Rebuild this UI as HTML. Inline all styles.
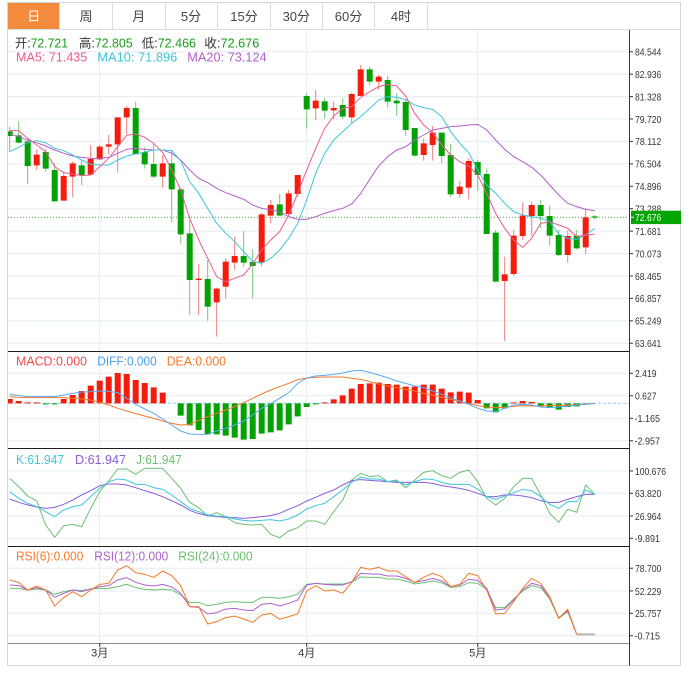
<!DOCTYPE html>
<html><head><meta charset="utf-8"><style>
html,body{margin:0;padding:0;background:#fff;}
svg{display:block;font-family:"Liberation Sans","Noto Sans CJK SC",sans-serif;}
.ns{vector-effect:non-scaling-stroke;fill:none;}
.ax{font-size:10.5px;fill:#333;}
</style></head><body>
<svg width="688" height="673" viewBox="0 0 688 673">
<defs><clipPath id="pc"><rect x="8" y="30" width="621" height="614"/></clipPath></defs>
<rect x="0" y="0" width="688" height="673" fill="#fff"/>
<!-- tabs -->
<rect x="8" y="3" width="51.3" height="26.3" fill="#f38b3e"/>
<g stroke="#dcdcdc" stroke-width="1">
<line x1="59.5" y1="3" x2="59.5" y2="29"/><line x1="112.5" y1="3" x2="112.5" y2="29"/>
<line x1="165.5" y1="3" x2="165.5" y2="29"/><line x1="217.5" y1="3" x2="217.5" y2="29"/>
<line x1="270.5" y1="3" x2="270.5" y2="29"/><line x1="322.5" y1="3" x2="322.5" y2="29"/>
<line x1="374.5" y1="3" x2="374.5" y2="29"/><line x1="427.5" y1="3" x2="427.5" y2="29"/>
<line x1="8" y1="29.5" x2="681" y2="29.5"/>
</g>
<rect x="7.5" y="2.5" width="673" height="663" fill="none" stroke="#d6d6d6"/>
<g font-size="13" text-anchor="middle" fill="#444">
<text x="33.7" y="20.8" fill="#fff">日</text>
<text x="86" y="20.8">周</text>
<text x="138.7" y="20.8">月</text>
<text x="191" y="20.8">5分</text>
<text x="244" y="20.8">15分</text>
<text x="296.3" y="20.8">30分</text>
<text x="348.5" y="20.8">60分</text>
<text x="401" y="20.8">4时</text>
</g>
<!-- grids -->
<g stroke="#e5ecf1" stroke-width="1">
<line x1="8" x2="629" y1="51.7" y2="51.7"/><line x1="8" x2="629" y1="74.1" y2="74.1"/>
<line x1="8" x2="629" y1="96.6" y2="96.6"/><line x1="8" x2="629" y1="119" y2="119"/>
<line x1="8" x2="629" y1="141.4" y2="141.4"/><line x1="8" x2="629" y1="163.9" y2="163.9"/>
<line x1="8" x2="629" y1="186.3" y2="186.3"/><line x1="8" x2="629" y1="208.7" y2="208.7"/>
<line x1="8" x2="629" y1="231.1" y2="231.1"/><line x1="8" x2="629" y1="253.6" y2="253.6"/>
<line x1="8" x2="629" y1="276" y2="276"/><line x1="8" x2="629" y1="298.4" y2="298.4"/>
<line x1="8" x2="629" y1="320.9" y2="320.9"/><line x1="8" x2="629" y1="343.3" y2="343.3"/>
<line x1="8" x2="629" y1="373.3" y2="373.3"/><line x1="8" x2="629" y1="395.7" y2="395.7"/>
<line x1="8" x2="629" y1="418.3" y2="418.3"/><line x1="8" x2="629" y1="440.7" y2="440.7"/>
<line x1="8" x2="629" y1="471" y2="471"/><line x1="8" x2="629" y1="493.3" y2="493.3"/>
<line x1="8" x2="629" y1="516" y2="516"/><line x1="8" x2="629" y1="538.3" y2="538.3"/>
<line x1="8" x2="629" y1="568.3" y2="568.3"/><line x1="8" x2="629" y1="591" y2="591"/>
<line x1="8" x2="629" y1="613.3" y2="613.3"/><line x1="8" x2="629" y1="635.7" y2="635.7"/>
<line x1="99.7" x2="99.7" y1="30" y2="643"/><line x1="306.7" x2="306.7" y1="30" y2="643"/><line x1="477.7" x2="477.7" y1="30" y2="643"/>
</g>
<g clip-path="url(#pc)">
<!-- current price line -->
<line x1="8" x2="629" y1="217.3" y2="217.3" stroke="#4aa84a" stroke-width="1" stroke-dasharray="1,2"/>
<!-- MACD zero line -->
<line x1="8" x2="629" y1="403.3" y2="403.3" stroke="#8ecbea" stroke-width="1" stroke-dasharray="3,2"/>
<!-- main chart -->
<g transform="translate(0,60) scale(1,0.3333333)">
<path class="ns" stroke="#f37d7c" stroke-width="1" d="M36.7 268V330M63.7 335V422M72.7 305V412M90.7 255V345M99.7 255V300M108.7 225V283M117.7 172V338M126.7 138V222M162.7 285V383M198.7 612V765M216.7 683V830M225.7 595V715M234.7 530V630M261.7 458V620M270.7 420V490M288.7 390V465M297.7 345V410M315.7 90V180M333.7 124V178M351.7 98V190M360.7 15V108M378.7 45V90M423.7 235V302M432.7 198V302M459.7 362V413M468.7 295V418M504.7 590V843M513.7 510V648M522.7 428V540M531.7 425V528M567.7 512V608M585.7 445V582"/>
<path class="ns" stroke="#76c776" stroke-width="1" d="M9.7 200V275M18.7 183V250M27.7 240V372M45.7 265V335M54.7 310V424M81.7 298V375M135.7 125V283M144.7 262V326M153.7 250V355M171.7 270V487M180.7 383V550M189.7 478V765M207.7 600V782M243.7 513V620M252.7 568V716M279.7 402V467M306.7 100V206M324.7 112V176M342.7 115V178M369.7 20V75M387.7 48V143M396.7 100V168M405.7 118V228M414.7 204V290M441.7 218V310M450.7 252V413M477.7 300V393M486.7 325V522M495.7 510V668M540.7 420V505M549.7 438V557M558.7 510V588M576.7 510V568M594.7 465V478"/>
<path fill="#f41c0c" d="M33.7 284h6V316h-6ZM60.7 348h6V422h-6ZM69.7 310h6V350h-6ZM87.7 297h6V344h-6ZM96.7 260h6V298h-6ZM105.7 253h6V260h-6ZM114.7 172h6V253h-6ZM123.7 144h6V172h-6ZM159.7 310h6V350h-6ZM195.7 656h6V660h-6ZM213.7 686h6V727h-6ZM222.7 605h6V680h-6ZM231.7 588h6V608h-6ZM258.7 463h6V607h-6ZM267.7 435h6V467h-6ZM285.7 400h6V462h-6ZM294.7 345h6V402h-6ZM312.7 122h6V145h-6ZM330.7 144h6V151h-6ZM348.7 102h6V172h-6ZM357.7 28h6V108h-6ZM375.7 50h6V65h-6ZM420.7 250h6V285h-6ZM429.7 218h6V255h-6ZM456.7 380h6V402h-6ZM465.7 303h6V383h-6ZM501.7 643h6V663h-6ZM510.7 527h6V642h-6ZM519.7 467h6V528h-6ZM528.7 435h6V468h-6ZM564.7 528h6V585h-6ZM582.7 472h6V562h-6Z"/>
<path fill="#04a104" d="M6.7 214h6V228h-6ZM15.7 226h6V248h-6ZM24.7 244h6V318h-6ZM42.7 276h6V326h-6ZM51.7 330h6V424h-6ZM78.7 316h6V345h-6ZM132.7 144h6V283h-6ZM141.7 276h6V313h-6ZM150.7 312h6V350h-6ZM168.7 310h6V388h-6ZM177.7 388h6V523h-6ZM186.7 520h6V660h-6ZM204.7 657h6V740h-6ZM240.7 588h6V608h-6ZM249.7 606h6V618h-6ZM276.7 433h6V467h-6ZM303.7 108h6V148h-6ZM321.7 124h6V152h-6ZM339.7 135h6V170h-6ZM366.7 28h6V65h-6ZM384.7 60h6V125h-6ZM393.7 122h6V130h-6ZM402.7 126h6V210h-6ZM411.7 204h6V287h-6ZM438.7 218h6V288h-6ZM447.7 285h6V403h-6ZM474.7 306h6V345h-6ZM483.7 342h6V522h-6ZM492.7 518h6V665h-6ZM537.7 435h6V468h-6ZM546.7 468h6V527h-6ZM555.7 525h6V585h-6ZM573.7 527h6V565h-6ZM591.7 469h6V473h-6Z"/>
<polyline class="ns" stroke="#b35fc9" stroke-width="1" points="9.7,222 18.7,230 27.7,240 36.7,248 45.7,258 54.7,270 63.7,280 72.7,288 81.7,292 90.7,295 99.7,295 108.7,292 117.7,280 126.7,268 135.7,265 144.7,268 153.7,270 162.7,270 171.7,280 180.7,300 189.7,330 198.7,355 207.7,368 216.7,385 225.7,398 234.7,408 243.7,418 252.7,435 261.7,445 270.7,450 279.7,455 288.7,470 297.7,478 306.7,478 315.7,470 324.7,460 333.7,452 342.7,445 351.7,432 360.7,400 369.7,358 378.7,318 387.7,290 396.7,270 405.7,260 414.7,240 423.7,225 432.7,210 441.7,205 450.7,200 459.7,198 468.7,195 477.7,193 486.7,210 495.7,240 504.7,268 513.7,290 522.7,305 531.7,322 540.7,345 549.7,375 558.7,405 567.7,430 576.7,440 585.7,448 594.7,452"/>
<polyline class="ns" stroke="#3cc6dc" stroke-width="1" points="9.7,275 18.7,262 27.7,248 36.7,242 45.7,248 54.7,265 63.7,272 72.7,285 81.7,300 90.7,313 99.7,315 108.7,315 117.7,300 126.7,288 135.7,282 144.7,276 153.7,270 162.7,270 171.7,272 180.7,302 189.7,365 198.7,400 207.7,445 216.7,490 225.7,520 234.7,545 243.7,575 252.7,605 261.7,610 270.7,595 279.7,570 288.7,535 297.7,490 306.7,420 315.7,340 324.7,280 333.7,240 342.7,215 351.7,190 360.7,170 369.7,145 378.7,120 387.7,110 396.7,112 405.7,119 414.7,135 423.7,143 432.7,148 441.7,170 450.7,215 459.7,250 468.7,278 477.7,330 486.7,375 495.7,400 504.7,430 513.7,455 522.7,465 531.7,470 540.7,475 549.7,485 558.7,522 567.7,535 576.7,538 585.7,525 594.7,505"/>
<polyline class="ns" stroke="#ee5a8e" stroke-width="1" points="9.7,212 18.7,212 27.7,235 36.7,255 45.7,275 54.7,320 63.7,338 72.7,342 81.7,347 90.7,345 99.7,320 108.7,295 117.7,260 126.7,226 135.7,222 144.7,232 153.7,250 162.7,278 171.7,330 180.7,390 189.7,475 198.7,540 207.7,595 216.7,650 225.7,665 234.7,655 243.7,645 252.7,612 261.7,570 270.7,540 279.7,515 288.7,465 297.7,400 306.7,330 315.7,265 324.7,205 333.7,168 342.7,145 351.7,140 360.7,112 369.7,95 378.7,80 387.7,73 396.7,78 405.7,108 414.7,160 423.7,195 432.7,218 441.7,255 450.7,285 459.7,305 468.7,318 477.7,345 486.7,400 495.7,460 504.7,505 513.7,540 522.7,562 531.7,535 540.7,490 549.7,485 558.7,495 567.7,505 576.7,530 585.7,525 594.7,522"/>
</g>
<!-- MACD -->
<g transform="translate(0,345) scale(1,0.3333333)">
<path fill="#f41c0c" d="M6.7 162h6V175h-6ZM15.7 168h6V175h-6ZM24.7 172h6V175h-6ZM33.7 172h6V175h-6ZM60.7 162h6V175h-6ZM69.7 150h6V175h-6ZM78.7 138h6V175h-6ZM87.7 122h6V175h-6ZM96.7 107h6V175h-6ZM105.7 95h6V175h-6ZM114.7 84h6V175h-6ZM123.7 87h6V175h-6ZM132.7 105h6V175h-6ZM141.7 114h6V175h-6ZM150.7 127h6V175h-6ZM159.7 143h6V175h-6ZM321.7 172h6V175h-6ZM330.7 163h6V175h-6ZM339.7 151h6V175h-6ZM348.7 131h6V175h-6ZM357.7 117h6V175h-6ZM366.7 115h6V175h-6ZM375.7 113h6V175h-6ZM384.7 117h6V175h-6ZM393.7 119h6V175h-6ZM402.7 125h6V175h-6ZM411.7 125h6V175h-6ZM420.7 119h6V175h-6ZM429.7 119h6V175h-6ZM438.7 131h6V175h-6ZM447.7 142h6V175h-6ZM456.7 140h6V175h-6ZM465.7 143h6V175h-6ZM474.7 165h6V175h-6ZM510.7 172h6V175h-6ZM519.7 168h6V175h-6ZM528.7 171h6V175h-6Z"/>
<path fill="#04a104" d="M42.7 175h6V178h-6ZM51.7 175h6V178h-6ZM177.7 175h6V212h-6ZM186.7 175h6V241h-6ZM195.7 175h6V255h-6ZM204.7 175h6V268h-6ZM213.7 175h6V268h-6ZM222.7 175h6V272h-6ZM231.7 175h6V278h-6ZM240.7 175h6V284h-6ZM249.7 175h6V282h-6ZM258.7 175h6V266h-6ZM267.7 175h6V262h-6ZM276.7 175h6V256h-6ZM285.7 175h6V238h-6ZM294.7 175h6V214h-6ZM303.7 175h6V186h-6ZM312.7 175h6V178h-6ZM483.7 175h6V190h-6ZM492.7 175h6V202h-6ZM501.7 175h6V190h-6ZM537.7 175h6V182h-6ZM546.7 175h6V188h-6ZM555.7 175h6V194h-6ZM564.7 175h6V186h-6ZM573.7 175h6V184h-6ZM582.7 175h6V178h-6Z"/>
<polyline class="ns" stroke="#f57a2a" stroke-width="1" points="9.7,155 18.7,157 27.7,158 36.7,158 45.7,158 54.7,158 63.7,158 72.7,160 81.7,162 90.7,165 99.7,172 108.7,180 117.7,190 126.7,198 135.7,206 144.7,213 153.7,220 162.7,228 171.7,235 180.7,240 189.7,238 198.7,226 207.7,215 216.7,205 225.7,195 234.7,185 243.7,173 252.7,160 261.7,147 270.7,135 279.7,125 288.7,115 297.7,104 306.7,99 315.7,97 324.7,96 333.7,96 342.7,96 351.7,100 360.7,103 369.7,110 378.7,117 387.7,123 396.7,128 405.7,133 414.7,138 423.7,145 432.7,150 441.7,157 450.7,163 459.7,170 468.7,176 477.7,182 486.7,186 495.7,188 504.7,187 513.7,184 522.7,182 531.7,183 540.7,183 549.7,182 558.7,181 567.7,180 576.7,179 585.7,177 594.7,175"/>
<polyline class="ns" stroke="#58aaf0" stroke-width="1" points="9.7,148 18.7,151 27.7,155 36.7,155 45.7,155 54.7,155 63.7,150 72.7,145 81.7,141 90.7,140 99.7,138 108.7,139 117.7,143 126.7,160 135.7,178 144.7,192 153.7,205 162.7,222 171.7,240 180.7,258 189.7,267 198.7,268 207.7,268 216.7,258 225.7,250 234.7,240 243.7,228 252.7,210 261.7,190 270.7,176 279.7,160 288.7,143 297.7,115 306.7,99 315.7,93 324.7,91 333.7,88 342.7,84 351.7,78 360.7,76 369.7,82 378.7,90 387.7,98 396.7,108 405.7,115 414.7,123 423.7,128 432.7,138 441.7,148 450.7,158 459.7,168 468.7,178 477.7,190 486.7,198 495.7,200 504.7,190 513.7,180 522.7,178 531.7,180 540.7,186 549.7,188 558.7,186 567.7,183 576.7,180 585.7,178 594.7,176"/>
</g>
<!-- KDJ -->
<g transform="translate(0,445) scale(1,0.3333333)">
<polyline class="ns" stroke="#6cc071" stroke-width="1" points="9.7,100 18.7,125 27.7,153 36.7,168 45.7,240 54.7,277 63.7,242 72.7,238 81.7,245 90.7,190 99.7,140 108.7,108 117.7,72 126.7,72 135.7,88 144.7,70 153.7,70 162.7,70 171.7,100 180.7,130 189.7,172 198.7,188 207.7,213 216.7,203 225.7,215 234.7,233 243.7,238 252.7,240 261.7,238 270.7,268 279.7,278 288.7,258 297.7,248 306.7,228 315.7,228 324.7,238 333.7,200 342.7,165 351.7,105 360.7,85 369.7,95 378.7,92 387.7,110 396.7,105 405.7,128 414.7,105 423.7,82 432.7,77 441.7,92 450.7,100 459.7,82 468.7,75 477.7,110 486.7,160 495.7,180 504.7,160 513.7,125 522.7,100 531.7,100 540.7,150 549.7,205 558.7,232 567.7,193 576.7,202 585.7,120 594.7,148"/>
<polyline class="ns" stroke="#8b5cd6" stroke-width="1" points="9.7,162 18.7,172 27.7,180 36.7,186 45.7,190 54.7,187 63.7,178 72.7,165 81.7,150 90.7,137 99.7,122 108.7,117 117.7,117 126.7,120 135.7,128 144.7,137 153.7,145 162.7,155 171.7,167 180.7,180 189.7,196 198.7,206 207.7,212 216.7,215 225.7,217 234.7,218 243.7,220 252.7,218 261.7,215 270.7,212 279.7,205 288.7,193 297.7,182 306.7,168 315.7,157 324.7,145 333.7,135 342.7,120 351.7,107 360.7,104 369.7,106 378.7,108 387.7,110 396.7,112 405.7,112 414.7,112 423.7,112 432.7,115 441.7,122 450.7,126 459.7,130 468.7,136 477.7,145 486.7,155 495.7,155 504.7,150 513.7,150 522.7,153 531.7,158 540.7,167 549.7,173 558.7,172 567.7,163 576.7,155 585.7,148 594.7,148"/>
<polyline class="ns" stroke="#3cc6dc" stroke-width="1" points="9.7,140 18.7,160 27.7,175 36.7,185 45.7,200 54.7,215 63.7,195 72.7,185 81.7,180 90.7,155 99.7,130 108.7,110 117.7,102 126.7,105 135.7,118 144.7,118 153.7,128 162.7,133 171.7,150 180.7,170 189.7,190 198.7,200 207.7,210 216.7,213 225.7,215 234.7,222 243.7,226 252.7,228 261.7,226 270.7,224 279.7,228 288.7,222 297.7,210 306.7,192 315.7,182 324.7,175 333.7,155 342.7,135 351.7,112 360.7,97 369.7,102 378.7,102 387.7,110 396.7,108 405.7,120 414.7,110 423.7,102 432.7,103 441.7,112 450.7,118 459.7,118 468.7,118 477.7,132 486.7,155 495.7,163 504.7,153 513.7,143 522.7,133 531.7,137 540.7,155 549.7,178 558.7,190 567.7,170 576.7,170 585.7,135 594.7,148"/>
</g>
<!-- RSI -->
<g transform="translate(0,545) scale(1,0.3333333)">
<polyline class="ns" stroke="#6cc071" stroke-width="1" points="9.7,130 18.7,130 27.7,135 36.7,132 45.7,135 54.7,148 63.7,140 72.7,135 81.7,137 90.7,132 99.7,130 108.7,130 117.7,125 126.7,118 135.7,128 144.7,133 153.7,135 162.7,133 171.7,135 180.7,150 189.7,172 198.7,172 207.7,182 216.7,178 225.7,172 234.7,170 243.7,172 252.7,172 261.7,157 270.7,157 279.7,160 288.7,155 297.7,148 306.7,118 315.7,115 324.7,117 333.7,117 342.7,117 351.7,112 360.7,96 369.7,97 378.7,97 387.7,102 396.7,102 405.7,108 414.7,117 423.7,113 432.7,108 441.7,113 450.7,127 459.7,125 468.7,113 477.7,115 486.7,133 495.7,188 504.7,188 513.7,162 522.7,138 531.7,122 540.7,128 549.7,162 558.7,220 567.7,200 576.7,268"/>
<polyline class="ns" stroke="#b060d0" stroke-width="1" points="9.7,120 18.7,122 27.7,135 36.7,128 45.7,135 54.7,157 63.7,145 72.7,135 81.7,140 90.7,132 99.7,125 108.7,122 117.7,105 126.7,98 135.7,112 144.7,120 153.7,123 162.7,118 171.7,126 180.7,145 189.7,185 198.7,187 207.7,207 216.7,203 225.7,192 234.7,190 243.7,195 252.7,197 261.7,178 270.7,175 279.7,183 288.7,175 297.7,165 306.7,120 315.7,115 324.7,118 333.7,120 342.7,120 351.7,110 360.7,85 369.7,87 378.7,87 387.7,93 396.7,93 405.7,100 414.7,112 423.7,107 432.7,100 441.7,108 450.7,125 459.7,120 468.7,103 477.7,106 486.7,130 495.7,195 504.7,192 513.7,165 522.7,135 531.7,115 540.7,122 549.7,158 558.7,218 567.7,197 576.7,268"/>
<polyline class="ns" stroke="#f57a2a" stroke-width="1" points="9.7,105 18.7,112 27.7,135 36.7,123 45.7,135 54.7,183 63.7,158 72.7,140 81.7,155 90.7,135 99.7,118 108.7,115 117.7,75 126.7,62 135.7,83 144.7,88 153.7,97 162.7,78 171.7,92 180.7,122 189.7,185 198.7,185 207.7,237 216.7,230 225.7,218 234.7,213 243.7,222 252.7,232 261.7,210 270.7,205 279.7,223 288.7,215 297.7,207 306.7,138 315.7,122 324.7,138 333.7,135 342.7,145 351.7,112 360.7,67 369.7,73 378.7,67 387.7,78 396.7,78 405.7,95 414.7,113 423.7,97 432.7,85 441.7,95 450.7,125 459.7,118 468.7,85 477.7,92 486.7,135 495.7,207 504.7,205 513.7,170 522.7,130 531.7,100 540.7,115 549.7,155 558.7,220 567.7,193 576.7,268"/>
<path class="ns" stroke="#b8b8a4" stroke-width="2" d="M576.7 268H594.7"/>
</g>
</g>
<!-- separators & axis -->
<g stroke="#1e1e1e" stroke-width="1">
<line x1="8" x2="629" y1="351.5" y2="351.5"/>
<line x1="8" x2="629" y1="448.5" y2="448.5"/>
<line x1="8" x2="629" y1="546.5" y2="546.5"/>
</g>
<line x1="8" x2="629" y1="643.5" y2="643.5" stroke="#8a8a8a"/>
<line x1="629.5" x2="629.5" y1="30" y2="665.5" stroke="#333"/>
<!-- tick marks -->
<g stroke="#333" stroke-width="1">
<path d="M629 51.7h4M629 74.1h4M629 96.6h4M629 119h4M629 141.4h4M629 163.9h4M629 186.3h4M629 208.7h4M629 231.1h4M629 253.6h4M629 276h4M629 298.4h4M629 320.9h4M629 343.3h4M629 373.3h4M629 395.7h4M629 418.3h4M629 440.7h4M629 471h4M629 493.3h4M629 516h4M629 538.3h4M629 568.3h4M629 591h4M629 613.3h4M629 635.7h4M99.7 643v4M306.7 643v4M477.7 643v4"/>
</g>
<!-- axis labels -->
<g class="ax">
<text x="635" y="55.5" textLength="26.3" lengthAdjust="spacingAndGlyphs">84.544</text>
<text x="635" y="77.9" textLength="26.3" lengthAdjust="spacingAndGlyphs">82.936</text>
<text x="635" y="100.4" textLength="26.3" lengthAdjust="spacingAndGlyphs">81.328</text>
<text x="635" y="122.8" textLength="26.3" lengthAdjust="spacingAndGlyphs">79.720</text>
<text x="635" y="145.2" textLength="26.3" lengthAdjust="spacingAndGlyphs">78.112</text>
<text x="635" y="167.7" textLength="26.3" lengthAdjust="spacingAndGlyphs">76.504</text>
<text x="635" y="190.1" textLength="26.3" lengthAdjust="spacingAndGlyphs">74.896</text>
<text x="635" y="212.5" textLength="26.3" lengthAdjust="spacingAndGlyphs">73.288</text>
<text x="635" y="234.9" textLength="26.3" lengthAdjust="spacingAndGlyphs">71.681</text>
<text x="635" y="257.4" textLength="26.3" lengthAdjust="spacingAndGlyphs">70.073</text>
<text x="635" y="279.8" textLength="26.3" lengthAdjust="spacingAndGlyphs">68.465</text>
<text x="635" y="302.2" textLength="26.3" lengthAdjust="spacingAndGlyphs">66.857</text>
<text x="635" y="324.7" textLength="26.3" lengthAdjust="spacingAndGlyphs">65.249</text>
<text x="635" y="347.1" textLength="26.3" lengthAdjust="spacingAndGlyphs">63.641</text>
<text x="635" y="377.1" textLength="21.5" lengthAdjust="spacingAndGlyphs">2.419</text>
<text x="635" y="399.5" textLength="21.5" lengthAdjust="spacingAndGlyphs">0.627</text>
<text x="634.5" y="422.1" textLength="25.5" lengthAdjust="spacingAndGlyphs">-1.165</text>
<text x="634.5" y="444.5" textLength="25.5" lengthAdjust="spacingAndGlyphs">-2.957</text>
<text x="635" y="474.8" textLength="31" lengthAdjust="spacingAndGlyphs">100.676</text>
<text x="635" y="497.1" textLength="26.3" lengthAdjust="spacingAndGlyphs">63.820</text>
<text x="635" y="519.8" textLength="26.3" lengthAdjust="spacingAndGlyphs">26.964</text>
<text x="634.5" y="542.1" textLength="25.5" lengthAdjust="spacingAndGlyphs">-9.891</text>
<text x="635" y="572.1" textLength="26.3" lengthAdjust="spacingAndGlyphs">78.700</text>
<text x="635" y="594.8" textLength="26.3" lengthAdjust="spacingAndGlyphs">52.229</text>
<text x="635" y="617.1" textLength="26.3" lengthAdjust="spacingAndGlyphs">25.757</text>
<text x="634.5" y="639.5" textLength="25.5" lengthAdjust="spacingAndGlyphs">-0.715</text>
</g>
<!-- current price box -->
<rect x="631" y="210.7" width="50" height="13.4" fill="#03a503"/>
<line x1="631" x2="634" y1="217.3" y2="217.3" stroke="#fff"/>
<text x="635" y="221.2" font-size="10.5" fill="#fff" textLength="26.3" lengthAdjust="spacingAndGlyphs">72.676</text>
<!-- months -->
<g font-size="11" fill="#333" text-anchor="middle">
<text x="99.7" y="656.5">3月</text>
<text x="306.7" y="656.5">4月</text>
<text x="477.7" y="656.5">5月</text>
</g>
<!-- legends -->
<g font-size="12.5">
<text x="15" y="47.5" textLength="53" lengthAdjust="spacingAndGlyphs"><tspan fill="#333">开:</tspan><tspan fill="#1a9e1a">72.721</tspan></text>
<text x="79" y="47.5" textLength="53.7" lengthAdjust="spacingAndGlyphs"><tspan fill="#333">高:</tspan><tspan fill="#1a9e1a">72.805</tspan></text>
<text x="141.7" y="47.5" textLength="54.3" lengthAdjust="spacingAndGlyphs"><tspan fill="#333">低:</tspan><tspan fill="#1a9e1a">72.466</tspan></text>
<text x="204.3" y="47.5" textLength="55" lengthAdjust="spacingAndGlyphs"><tspan fill="#333">收:</tspan><tspan fill="#1a9e1a">72.676</tspan></text>
</g>
<g font-size="12.5">
<text x="16" y="61.5" fill="#ee5a8e" textLength="71.3" lengthAdjust="spacingAndGlyphs">MA5: 71.435</text>
<text x="97.3" y="61.5" fill="#3cc6dc" textLength="80" lengthAdjust="spacingAndGlyphs">MA10: 71.896</text>
<text x="187.3" y="61.5" fill="#b35fc9" textLength="79.4" lengthAdjust="spacingAndGlyphs">MA20: 73.124</text>
<text x="16" y="365.5" fill="#f24a4a" textLength="71" lengthAdjust="spacingAndGlyphs">MACD:0.000</text>
<text x="97.3" y="365.5" fill="#4aa3ee" textLength="59.4" lengthAdjust="spacingAndGlyphs">DIFF:0.000</text>
<text x="166.7" y="365.5" fill="#f57a2a" textLength="59.3" lengthAdjust="spacingAndGlyphs">DEA:0.000</text>
<text x="16" y="464" fill="#3cc6dc" textLength="48" lengthAdjust="spacingAndGlyphs">K:61.947</text>
<text x="75" y="464" fill="#8b5cd6" textLength="51" lengthAdjust="spacingAndGlyphs">D:61.947</text>
<text x="136" y="464" fill="#6cc071" textLength="45.7" lengthAdjust="spacingAndGlyphs">J:61.947</text>
<text x="16" y="560.5" fill="#f57a2a" textLength="67.3" lengthAdjust="spacingAndGlyphs">RSI(6):0.000</text>
<text x="94.3" y="560.5" fill="#b060d0" textLength="74" lengthAdjust="spacingAndGlyphs">RSI(12):0.000</text>
<text x="178.3" y="560.5" fill="#6cc071" textLength="74.4" lengthAdjust="spacingAndGlyphs">RSI(24):0.000</text>
</g>
</svg>
</body></html>
